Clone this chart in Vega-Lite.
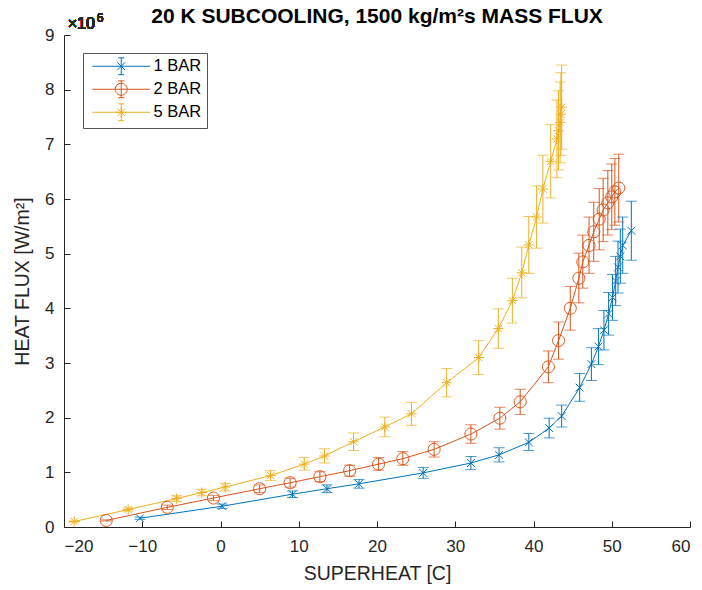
{
  "$schema": "https://vega.github.io/schema/vega-lite/v6.json",
  "width": 626,
  "height": 492,
  "autosize": {"type": "none"},
  "padding": {"left": 64, "top": 35, "right": 12, "bottom": 63},
  "background": "white",
  "title": {
    "text": "20 K SUBCOOLING, 1500 kg/m²s MASS FLUX",
    "font": "Liberation Sans",
    "fontSize": 21,
    "fontWeight": "bold",
    "color": "#000000",
    "anchor": "middle",
    "offset": -15
  },
  "config": {
    "view": {"stroke": null},
    "font": "Liberation Sans",
    "axis": {
      "grid": false,
      "domainColor": "#262626",
      "tickColor": "#262626",
      "labelColor": "#262626",
      "titleColor": "#262626",
      "labelFont": "Liberation Sans",
      "titleFont": "Liberation Sans",
      "labelFontSize": 17,
      "titleFontSize": 19.5,
      "titleFontWeight": "normal",
      "tickSize": -6,
      "domainWidth": 1,
      "tickWidth": 1
    },
    "legend": {
      "orient": "none",
      "legendX": 19,
      "legendY": 18,
      "strokeColor": "#555555",
      "fillColor": "white",
      "padding": 5,
      "labelFont": "Liberation Sans",
      "labelFontSize": 16.5,
      "labelColor": "#000000",
      "symbolSize": 144,
      "symbolStrokeWidth": 1,
      "symbolOffset": 25,
      "labelOffset": 24,
      "rowPadding": 1,
      "title": null
    }
  },
  "data": {
    "values": [
      {"s": "1 BAR", "x": -10.3, "q": 0.16, "lo": 0.14, "hi": 0.18},
      {"s": "1 BAR", "x": 0.2, "q": 0.38, "lo": 0.34, "hi": 0.42},
      {"s": "1 BAR", "x": 9.2, "q": 0.60, "lo": 0.54, "hi": 0.66},
      {"s": "1 BAR", "x": 13.6, "q": 0.70, "lo": 0.63, "hi": 0.77},
      {"s": "1 BAR", "x": 17.7, "q": 0.79, "lo": 0.71, "hi": 0.87},
      {"s": "1 BAR", "x": 25.9, "q": 0.99, "lo": 0.89, "hi": 1.09},
      {"s": "1 BAR", "x": 32.0, "q": 1.17, "lo": 1.05, "hi": 1.29},
      {"s": "1 BAR", "x": 35.6, "q": 1.32, "lo": 1.19, "hi": 1.45},
      {"s": "1 BAR", "x": 39.4, "q": 1.55, "lo": 1.40, "hi": 1.71},
      {"s": "1 BAR", "x": 42.0, "q": 1.81, "lo": 1.63, "hi": 1.99},
      {"s": "1 BAR", "x": 43.6, "q": 2.03, "lo": 1.83, "hi": 2.23},
      {"s": "1 BAR", "x": 45.9, "q": 2.55, "lo": 2.30, "hi": 2.81},
      {"s": "1 BAR", "x": 47.4, "q": 2.98, "lo": 2.68, "hi": 3.28},
      {"s": "1 BAR", "x": 48.3, "q": 3.30, "lo": 2.97, "hi": 3.63},
      {"s": "1 BAR", "x": 49.0, "q": 3.60, "lo": 3.24, "hi": 3.96},
      {"s": "1 BAR", "x": 49.6, "q": 3.90, "lo": 3.51, "hi": 4.29},
      {"s": "1 BAR", "x": 50.1, "q": 4.20, "lo": 3.78, "hi": 4.62},
      {"s": "1 BAR", "x": 50.5, "q": 4.50, "lo": 4.05, "hi": 4.95},
      {"s": "1 BAR", "x": 50.8, "q": 4.75, "lo": 4.28, "hi": 5.23},
      {"s": "1 BAR", "x": 51.1, "q": 4.95, "lo": 4.46, "hi": 5.45},
      {"s": "1 BAR", "x": 51.4, "q": 5.15, "lo": 4.64, "hi": 5.67},
      {"s": "1 BAR", "x": 52.5, "q": 5.42, "lo": 4.88, "hi": 5.96},
      {"s": "2 BAR", "x": -14.6, "q": 0.12, "lo": 0.11, "hi": 0.13},
      {"s": "2 BAR", "x": -6.8, "q": 0.36, "lo": 0.32, "hi": 0.40},
      {"s": "2 BAR", "x": -0.9, "q": 0.53, "lo": 0.48, "hi": 0.58},
      {"s": "2 BAR", "x": 5.0, "q": 0.70, "lo": 0.63, "hi": 0.77},
      {"s": "2 BAR", "x": 8.9, "q": 0.81, "lo": 0.73, "hi": 0.89},
      {"s": "2 BAR", "x": 12.7, "q": 0.92, "lo": 0.83, "hi": 1.01},
      {"s": "2 BAR", "x": 16.5, "q": 1.03, "lo": 0.93, "hi": 1.13},
      {"s": "2 BAR", "x": 20.2, "q": 1.15, "lo": 1.04, "hi": 1.27},
      {"s": "2 BAR", "x": 23.3, "q": 1.25, "lo": 1.13, "hi": 1.38},
      {"s": "2 BAR", "x": 27.3, "q": 1.42, "lo": 1.28, "hi": 1.56},
      {"s": "2 BAR", "x": 32.0, "q": 1.70, "lo": 1.53, "hi": 1.87},
      {"s": "2 BAR", "x": 35.7, "q": 1.99, "lo": 1.79, "hi": 2.19},
      {"s": "2 BAR", "x": 38.3, "q": 2.29, "lo": 2.06, "hi": 2.52},
      {"s": "2 BAR", "x": 41.9, "q": 2.93, "lo": 2.64, "hi": 3.22},
      {"s": "2 BAR", "x": 43.2, "q": 3.41, "lo": 3.07, "hi": 3.75},
      {"s": "2 BAR", "x": 44.7, "q": 4.00, "lo": 3.60, "hi": 4.40},
      {"s": "2 BAR", "x": 45.8, "q": 4.55, "lo": 4.10, "hi": 5.01},
      {"s": "2 BAR", "x": 46.3, "q": 4.85, "lo": 4.37, "hi": 5.34},
      {"s": "2 BAR", "x": 47.1, "q": 5.15, "lo": 4.64, "hi": 5.67},
      {"s": "2 BAR", "x": 47.7, "q": 5.40, "lo": 4.86, "hi": 5.94},
      {"s": "2 BAR", "x": 48.4, "q": 5.63, "lo": 5.07, "hi": 6.19},
      {"s": "2 BAR", "x": 48.9, "q": 5.80, "lo": 5.22, "hi": 6.38},
      {"s": "2 BAR", "x": 49.5, "q": 5.93, "lo": 5.34, "hi": 6.52},
      {"s": "2 BAR", "x": 50.0, "q": 6.04, "lo": 5.44, "hi": 6.64},
      {"s": "2 BAR", "x": 50.4, "q": 6.13, "lo": 5.52, "hi": 6.74},
      {"s": "2 BAR", "x": 50.9, "q": 6.20, "lo": 5.58, "hi": 6.82},
      {"s": "5 BAR", "x": -18.7, "q": 0.10, "lo": 0.09, "hi": 0.11},
      {"s": "5 BAR", "x": -11.8, "q": 0.32, "lo": 0.29, "hi": 0.35},
      {"s": "5 BAR", "x": -5.6, "q": 0.52, "lo": 0.47, "hi": 0.57},
      {"s": "5 BAR", "x": -2.4, "q": 0.63, "lo": 0.57, "hi": 0.69},
      {"s": "5 BAR", "x": 0.6, "q": 0.73, "lo": 0.66, "hi": 0.80},
      {"s": "5 BAR", "x": 6.4, "q": 0.94, "lo": 0.85, "hi": 1.03},
      {"s": "5 BAR", "x": 10.7, "q": 1.15, "lo": 1.04, "hi": 1.27},
      {"s": "5 BAR", "x": 13.3, "q": 1.30, "lo": 1.17, "hi": 1.43},
      {"s": "5 BAR", "x": 17.0, "q": 1.56, "lo": 1.40, "hi": 1.72},
      {"s": "5 BAR", "x": 21.0, "q": 1.83, "lo": 1.65, "hi": 2.01},
      {"s": "5 BAR", "x": 24.4, "q": 2.07, "lo": 1.86, "hi": 2.28},
      {"s": "5 BAR", "x": 28.9, "q": 2.64, "lo": 2.38, "hi": 2.90},
      {"s": "5 BAR", "x": 33.0, "q": 3.10, "lo": 2.79, "hi": 3.41},
      {"s": "5 BAR", "x": 35.5, "q": 3.63, "lo": 3.27, "hi": 3.99},
      {"s": "5 BAR", "x": 37.3, "q": 4.14, "lo": 3.73, "hi": 4.55},
      {"s": "5 BAR", "x": 38.5, "q": 4.65, "lo": 4.19, "hi": 5.12},
      {"s": "5 BAR", "x": 39.4, "q": 5.16, "lo": 4.64, "hi": 5.68},
      {"s": "5 BAR", "x": 40.4, "q": 5.67, "lo": 5.10, "hi": 6.24},
      {"s": "5 BAR", "x": 41.2, "q": 6.18, "lo": 5.56, "hi": 6.80},
      {"s": "5 BAR", "x": 42.2, "q": 6.69, "lo": 6.02, "hi": 7.36},
      {"s": "5 BAR", "x": 43.0, "q": 7.10, "lo": 6.39, "hi": 7.81},
      {"s": "5 BAR", "x": 43.2, "q": 7.25, "lo": 6.53, "hi": 7.98},
      {"s": "5 BAR", "x": 43.4, "q": 7.40, "lo": 6.66, "hi": 8.14},
      {"s": "5 BAR", "x": 43.5, "q": 7.55, "lo": 6.80, "hi": 8.31},
      {"s": "5 BAR", "x": 43.6, "q": 7.68, "lo": 6.91, "hi": 8.45}
    ]
  },
  "encoding": {
    "x": {
      "field": "x",
      "type": "quantitative",
      "scale": {"domain": [-20, 60], "nice": false},
      "axis": {"values": [-20, -10, 0, 10, 20, 30, 40, 50, 60], "title": "SUPERHEAT [C]", "labelPadding": 17, "titlePadding": 10}
    },
    "y": {
      "field": "q",
      "type": "quantitative",
      "scale": {"domain": [0, 9], "nice": false},
      "axis": {"values": [0, 1, 2, 3, 4, 5, 6, 7, 8, 9], "title": "HEAT FLUX [W/m²]", "labelPadding": 16, "titlePadding": 12}
    },
    "color": {
      "field": "s",
      "type": "nominal",
      "legend": null,
      "scale": {"domain": ["1 BAR", "2 BAR", "5 BAR"], "range": ["#0072BD", "#D95319", "#EDB120"]}
    }
  },
  "layer": [
    {
      "mark": {"type": "rule", "strokeWidth": 1},
      "encoding": {
        "y": {"field": "lo", "type": "quantitative"},
        "y2": {"field": "hi"}
      }
    },
    {
      "mark": {"type": "tick", "orient": "horizontal", "size": 11, "thickness": 1},
      "encoding": {"y": {"field": "lo", "type": "quantitative"}}
    },
    {
      "mark": {"type": "tick", "orient": "horizontal", "size": 11, "thickness": 1},
      "encoding": {"y": {"field": "hi", "type": "quantitative"}}
    },
    {
      "mark": {"type": "line", "strokeWidth": 1},
      "encoding": {}
    },
    {
      "mark": {"type": "point", "filled": false, "size": 144, "strokeWidth": 1, "opacity": 1},
      "encoding": {
        "shape": {
          "field": "s",
          "type": "nominal",
          "legend": null,
          "scale": {
            "domain": ["1 BAR", "2 BAR", "5 BAR"],
            "range": [
              "M-0.65,-0.65L0.65,0.65M-0.65,0.65L0.65,-0.65",
              "M1,0A1,1 0 1,1 -1,0A1,1 0 1,1 1,0Z",
              "M-0.85,0L0.85,0M0,-0.85L0,0.85M-0.6,-0.6L0.6,0.6M-0.6,0.6L0.6,-0.6"
            ]
          }
        }
      }
    },
    {
      "transform": [{"filter": "datum.x > 1000"}],
      "mark": {"type": "point", "filled": false, "size": 144, "strokeWidth": 1, "opacity": 1},
      "encoding": {
        "color": {
          "field": "s",
          "type": "nominal",
          "legend": {},
          "scale": {"domain": ["1 BAR", "2 BAR", "5 BAR"], "range": ["#0072BD", "#D95319", "#EDB120"]}
        },
        "shape": {
          "field": "s",
          "type": "nominal",
          "legend": {},
          "scale": {
            "domain": ["1 BAR", "2 BAR", "5 BAR"],
            "range": [
              "M-4.8,0L4.8,0M0,-1.4L0,1.4M-0.5,-1.4L0.5,-1.4M-0.5,1.4L0.5,1.4M-0.65,-0.65L0.65,0.65M-0.65,0.65L0.65,-0.65",
              "M-4.8,0L4.8,0M0,-1.4L0,1.4M-0.5,-1.4L0.5,-1.4M-0.5,1.4L0.5,1.4M1,0A1,1 0 1,1 -1,0A1,1 0 1,1 1,0Z",
              "M-4.8,0L4.8,0M0,-1.4L0,1.4M-0.5,-1.4L0.5,-1.4M-0.5,1.4L0.5,1.4M-0.85,0L0.85,0M0,-0.85L0,0.85M-0.6,-0.6L0.6,0.6M-0.6,0.6L0.6,-0.6"
            ]
          }
        }
      }
    },
    {
      "mark": {"type": "text", "align": "center", "baseline": "alphabetic", "dy": -6, "fontSize": 16, "font": "Liberation Sans"},
      "encoding": {
        "x": {"datum": -17.8},
        "y": {"datum": 9},
        "text": {"value": "×10"},
        "color": {"value": "#262626"}
      }
    },
    {
      "mark": {"type": "text", "align": "center", "baseline": "alphabetic", "dy": -13, "fontSize": 12, "font": "Liberation Sans"},
      "encoding": {
        "x": {"datum": -15.4},
        "y": {"datum": 9},
        "text": {"value": "6"},
        "color": {"value": "#262626"}
      }
    }
  ],
  "resolve": {
    "scale": {"shape": "independent", "color": "independent"},
    "legend": {"shape": "independent", "color": "independent"}
  }
}
